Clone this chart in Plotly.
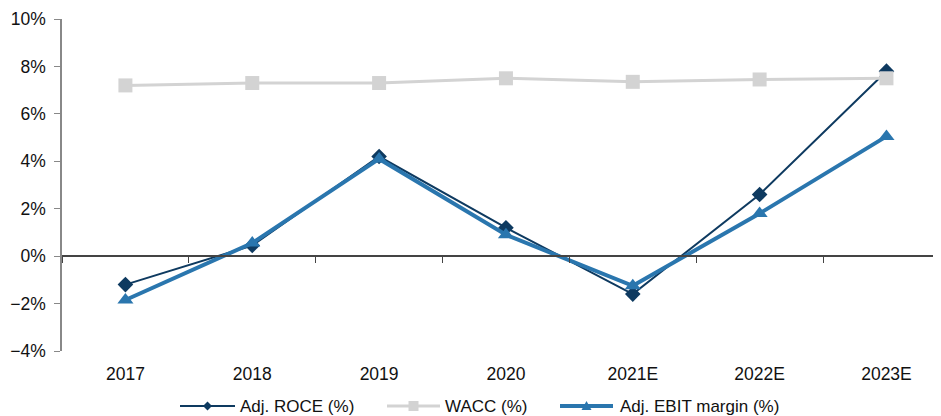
import plotly.graph_objects as go

years = ["2017", "2018", "2019", "2020", "2021E", "2022E", "2023E"]
adj_roce = [-1.2, 0.45, 4.2, 1.2, -1.6, 2.6, 7.8]
wacc = [7.2, 7.3, 7.3, 7.5, 7.35, 7.45, 7.5]
adj_ebit_margin = [-1.85, 0.55, 4.1, 0.9, -1.25, 1.8, 5.05]

series_names = ["Adj. ROCE (%)", "WACC (%)", "Adj. EBIT margin (%)"]

y_min, y_max = -4, 10

# page body has an 8px margin, so the figure is shrunk by that amount
W, H = 933, 408
ML, MT, MB = 54, 11, 65
PW, PH = W - ML, H - MT - MB

ROCE_C, WACC_C, EBIT_C = "#0E3A60", "#D3D3D3", "#2A76AE"


def px_x(sx):
    return (sx - 8 - ML) / PW


def px_y(sy):
    return (MT + PH - (sy - 8)) / PH


fig = go.Figure()

# zero axis with boundary ticks (drawn on an overlay x axis)
fig.add_trace(go.Scatter(x=years, y=[None] * len(years), xaxis="x2",
                         showlegend=False, hoverinfo="skip"))

fig.add_trace(go.Scatter(
    x=years, y=adj_roce, name=series_names[0], mode="lines+markers",
    line=dict(color=ROCE_C, width=2),
    marker=dict(symbol="diamond", size=12, color=ROCE_C),
))
fig.add_trace(go.Scatter(
    x=years, y=wacc, name=series_names[1], mode="lines+markers",
    line=dict(color=WACC_C, width=3),
    marker=dict(symbol="square", size=14, color=WACC_C),
))
fig.add_trace(go.Scatter(
    x=years, y=adj_ebit_margin, name=series_names[2], mode="lines+markers",
    line=dict(color=EBIT_C, width=4),
    marker=dict(symbol="triangle-up", size=14, color=EBIT_C),
))

# hand-drawn legend (long line samples like the source chart)
leg_y = px_y(406)
legend_items = [
    # line start, line end, text start, colour, width, marker path
    (180, 235, 238, ROCE_C, 2, "M0,-4.5 L4.5,0 L0,4.5 L-4.5,0 Z"),
    (387, 440, 443, WACC_C, 3, "M-5,-5 L5,-5 L5,5 L-5,5 Z"),
    (560, 613, 618, EBIT_C, 4, "M-5,-4 L5,-4 L0,5 Z"),
]
shapes, annotations = [], []
for name, (x0, x1, xt, col, lw, mpath) in zip(series_names, legend_items):
    shapes.append(dict(type="line", xref="paper", yref="paper",
                       x0=px_x(x0), x1=px_x(x1), y0=leg_y, y1=leg_y,
                       line=dict(color=col, width=lw)))
    shapes.append(dict(type="path", xref="paper", yref="paper",
                       xsizemode="pixel", ysizemode="pixel",
                       xanchor=px_x((x0 + x1) / 2), yanchor=leg_y,
                       path=mpath, fillcolor=col, line=dict(width=0)))
    annotations.append(dict(text=name, xref="paper", yref="paper",
                            x=px_x(xt), y=leg_y, xanchor="left",
                            yanchor="middle", showarrow=False,
                            font=dict(size=17, color="#111111")))

font = dict(family="Liberation Sans, Arial, sans-serif", size=17.5, color="#111111")
xrange = [-0.5, 6.43]

fig.update_layout(
    width=W, height=H,
    margin=dict(l=ML, r=0, t=MT, b=MB),
    paper_bgcolor="white", plot_bgcolor="white",
    font=font,
    showlegend=False,
    shapes=shapes,
    annotations=annotations,
    xaxis=dict(type="category", range=xrange, showline=False, showgrid=False,
               zeroline=False, ticks="", ticklabelstandoff=10, automargin=False),
    xaxis2=dict(type="category", range=xrange, overlaying="x", anchor="free",
                position=(0 - y_min) / (y_max - y_min), side="bottom",
                showline=True, linecolor="#444444", linewidth=1.5,
                ticks="outside", ticklen=6, tickcolor="#444444",
                tickson="boundaries", showticklabels=False, showgrid=False,
                automargin=False),
    yaxis=dict(range=[y_min, y_max], dtick=2, ticksuffix="%", showgrid=False,
               zeroline=False, showline=True, linecolor="#888888", linewidth=1.5,
               ticks="outside", ticklen=6, tickcolor="#888888",
               ticklabelstandoff=5, automargin=False),
)

fig.write_html("out.html")
